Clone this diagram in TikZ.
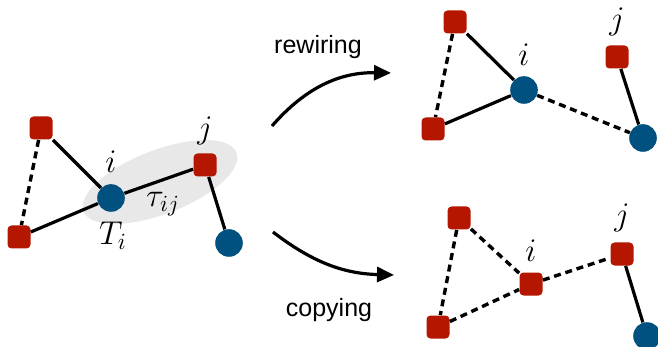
\RequirePackage{fix-cm}
\documentclass[tikz,border=0pt]{standalone}
\usepackage{fontspec}
\setsansfont{Liberation Sans}
\usepackage{amsmath}
\usetikzlibrary{positioning,arrows.meta,shapes.geometric}

\definecolor{facred}{RGB}{181,22,0}
\definecolor{varblue}{RGB}{0,80,128}
\definecolor{shade}{RGB}{232,232,232}

\begin{document}
\begin{tikzpicture}[x=0.5pt,y=-0.5pt,
    fac/.style={rectangle,rounded corners=2pt,fill=facred,minimum size=11.5pt,inner sep=0pt},
    var/.style={circle,fill=varblue,minimum size=13.8pt,inner sep=0pt},
    lab/.style={inner sep=1pt,font=\fontsize{16.5}{19}\selectfont},
    caption/.style={font=\sffamily\fontsize{12.5}{14}\selectfont},
    link/.style={line width=1.6pt},
    cut/.style={line width=1.7pt,dash pattern=on 3.5pt off 2.4pt},
    move/.style={line width=1.6pt,-{Triangle[length=8.5pt,width=7.5pt]}},
    node distance=4pt]
  \useasboundingbox (0,0) rectangle (658,347);

  % before
  \node[ellipse,fill=shade,minimum width=82pt,minimum height=32pt,
        inner sep=0pt,rotate=21] (T) at (160,182) {};
  \node[fac] (a) at (41,128) {};
  \node[fac] (b) at (19,237) {};
  \node[var] (i) at (111,198) {};
  \node[fac] (j) at (205,165) {};
  \node[var] (k) at (229,243) {};
  \node[lab] (li) [above=4.5pt of i] {$i$};
  \node[lab] (lj) [above=3pt of j] {$j$};
  \node[lab] (ltau) at (163,204) {$\tau_{ij}$};
  \node[lab] (lT) at (113,236) {$T_i$};
  \path[link] (a) edge (i)
              (b) edge (i)
              (i) edge (j)
              (j) edge (k);
  \path[cut] (a) edge (b);

  % rewiring
  \node[fac] (ra) at (455,22) {};
  \node[fac] (rb) at (433,129) {};
  \node[var] (ri) at (524,90) {};
  \node[fac] (rj) at (617,57) {};
  \node[var] (rk) at (643,138) {};
  \node[lab] (rli) [above=3.8pt of ri] {$i$};
  \node[lab] (rlj) [above=3.5pt of rj] {$j$};
  \path[link] (ra) edge (ri)
              (rb) edge (ri)
              (rj) edge (rk);
  \path[cut] (ra) edge (rb)
             (ri) edge (rk);

  % copying
  \node[fac] (ca) at (459,218) {};
  \node[fac] (cb) at (438,327) {};
  \node[fac] (ci) at (531,284) {};
  \node[fac] (cj) at (622,254) {};
  \node[var] (ck) at (647,336) {};
  \node[lab] (cli) [above=4pt of ci] {$i$};
  \node[lab] (clj) [above=4pt of cj] {$j$};
  \path[link] (cj) edge (ck);
  \path[cut] (ca) edge (cb)
             (ca) edge (ci)
             (cb) edge (ci)
             (ci) edge (cj);

  % arrows
  \coordinate (r0) at (272,126);
  \coordinate (r1) at (391,73);
  \coordinate (c0) at (273,232);
  \coordinate (c1) at (394,275);
  \path[move] (r0) edge [bend left=25] (r1)
              (c0) edge [bend right=18] (c1);
  \node[caption] (rw) at (318,47) {rewiring};
  \node[caption] (cp) at (329,310) {copying};
\end{tikzpicture}
\end{document}
